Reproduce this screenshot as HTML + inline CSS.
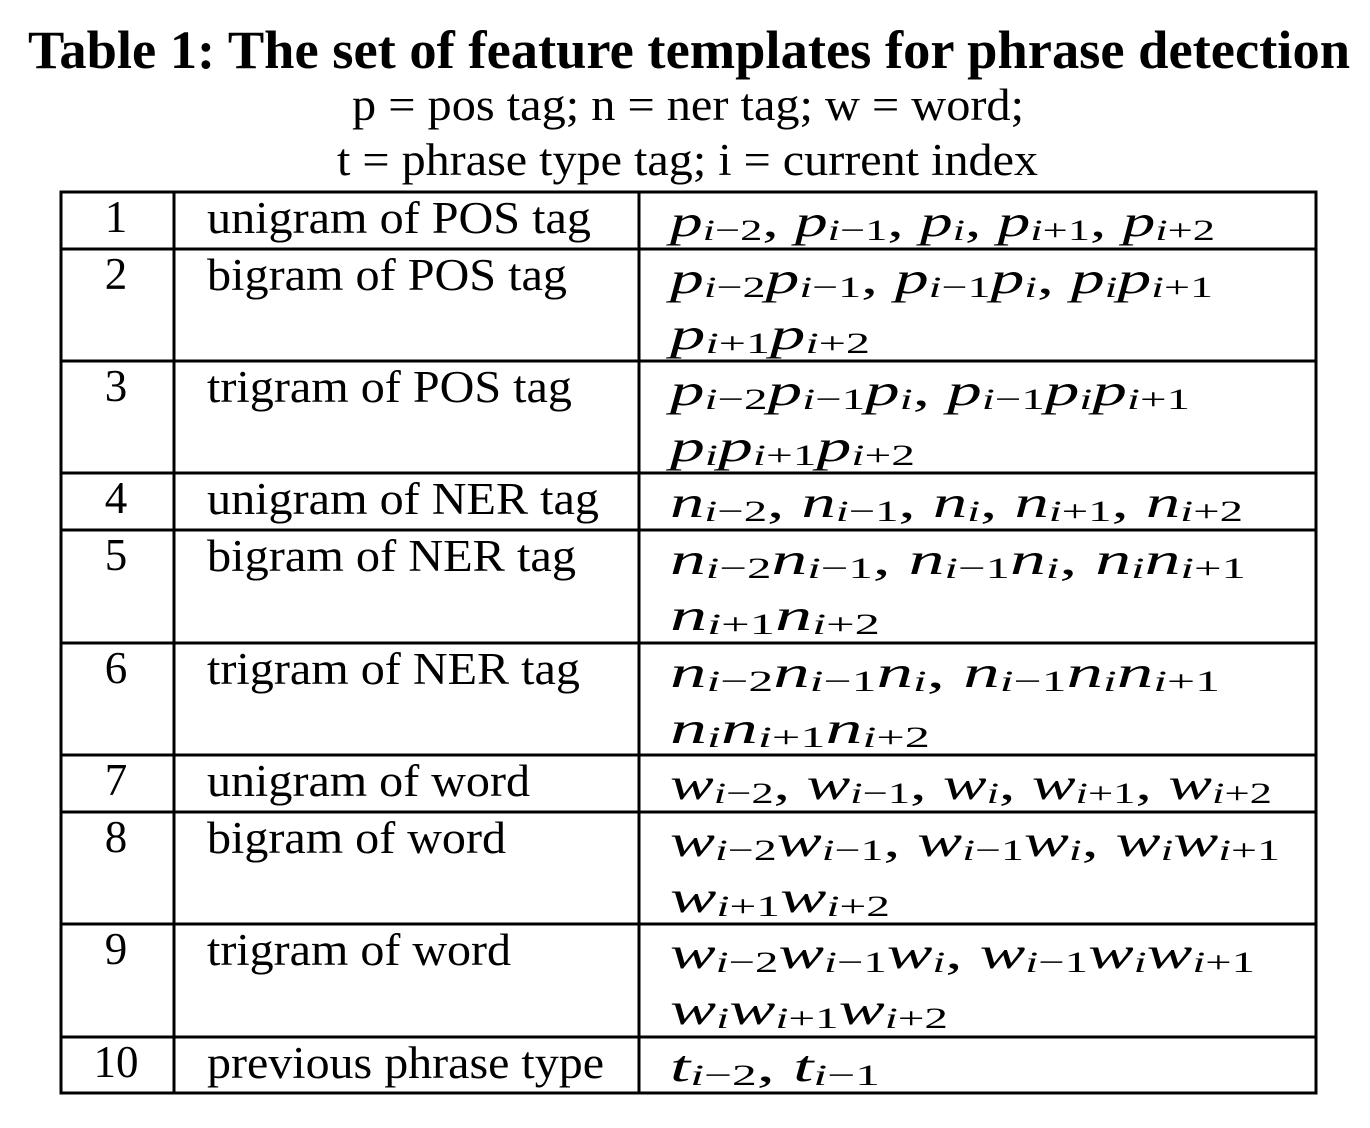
<!DOCTYPE html>
<html><head><meta charset="utf-8"><style>
html,body{margin:0;padding:0;background:#fff;}
svg{display:block;}
text{font-family:"Liberation Serif",serif;fill:#000;}
</style></head><body>
<svg id="s" width="1370" height="1128" viewBox="0 0 1370 1128" xmlns="http://www.w3.org/2000/svg">
<text x="28" y="68" font-size="54" font-weight="bold" textLength="1322" lengthAdjust="spacingAndGlyphs">Table 1: The set of feature templates for phrase detection</text>
<text x="352" y="120" font-size="45" textLength="672" lengthAdjust="spacingAndGlyphs">p = pos tag; n = ner tag; w = word;</text>
<text x="337" y="175" font-size="45" textLength="701" lengthAdjust="spacingAndGlyphs">t = phrase type tag; i = current index</text>
</svg>
<script>
const svg=document.getElementById('s');
const NS='http://www.w3.org/2000/svg';
const rowTops=[192,249,361,473,530,643,755,812,924,1037];
const tableBottom=1093;
const colX=[61,174,639,1316];
const names=['unigram of POS tag','bigram of POS tag','trigram of POS tag','unigram of NER tag','bigram of NER tag','trigram of NER tag','unigram of word','bigram of word','trigram of word','previous phrase type'];
const nameEnds=[591,567,572,599,576,580,530,506,511,604];
const feats=[
 ['p_{i−2}, p_{i−1}, p_{i}, p_{i+1}, p_{i+2}'],
 ['p_{i−2}p_{i−1}, p_{i−1}p_{i}, p_{i}p_{i+1}','p_{i+1}p_{i+2}'],
 ['p_{i−2}p_{i−1}p_{i}, p_{i−1}p_{i}p_{i+1}','p_{i}p_{i+1}p_{i+2}'],
 ['n_{i−2}, n_{i−1}, n_{i}, n_{i+1}, n_{i+2}'],
 ['n_{i−2}n_{i−1}, n_{i−1}n_{i}, n_{i}n_{i+1}','n_{i+1}n_{i+2}'],
 ['n_{i−2}n_{i−1}n_{i}, n_{i−1}n_{i}n_{i+1}','n_{i}n_{i+1}n_{i+2}'],
 ['w_{i−2}, w_{i−1}, w_{i}, w_{i+1}, w_{i+2}'],
 ['w_{i−2}w_{i−1}, w_{i−1}w_{i}, w_{i}w_{i+1}','w_{i+1}w_{i+2}'],
 ['w_{i−2}w_{i−1}w_{i}, w_{i−1}w_{i}w_{i+1}','w_{i}w_{i+1}w_{i+2}'],
 ['t_{i−2}, t_{i−1}']
];
const featEnds=[[1215],[1213,870],[1190,915],[1243],[1246,880],[1220,930],[1272],[1280,890],[1255,948],[880]];

function line(x1,y1,x2,y2,name){
  const l=document.createElementNS(NS,'line');
  l.setAttribute('x1',x1);l.setAttribute('y1',y1);l.setAttribute('x2',x2);l.setAttribute('y2',y2);
  l.setAttribute('stroke','#000');l.setAttribute('stroke-width','3');
  
  
  svg.appendChild(l);
}
rowTops.concat([tableBottom]).forEach((y,i)=>line(59.5,y,1317.5,y,'row-rule-'+i));
colX.forEach((x,i)=>line(x,190.5,x,1094.5,'column-rule-'+i));

function txt(x,y,s,size,name,len,anchor){
  const t=document.createElementNS(NS,'text');
  t.setAttribute('x',x);t.setAttribute('y',y);t.setAttribute('font-size',size);
  if(len){t.setAttribute('textLength',len);t.setAttribute('lengthAdjust','spacingAndGlyphs');}
  if(anchor)t.setAttribute('text-anchor',anchor);
  t.textContent=s;
  
  
  svg.appendChild(t);return t;
}
function span(t,text,attrs){
  const s=document.createElementNS(NS,'tspan');
  for(const k in attrs)s.setAttribute(k,attrs[k]);
  s.textContent=text;t.appendChild(s);
}
function mathLine(x,y,s,len,name){
  const t=document.createElementNS(NS,'text');
  t.setAttribute('x',x);t.setAttribute('y',y);t.setAttribute('font-size',44);
  t.setAttribute('textLength',len);t.setAttribute('lengthAdjust','spacingAndGlyphs');
  
  
  const re=/([a-z])_\{([^}]*)\}|([^_]+?)(?=[a-z]_|$)/g;let m;
  while((m=re.exec(s))!==null){
    if(m[1]){
      span(t,m[1],{'font-style':'italic'});
      span(t,'i',{'font-size':'30','font-style':'italic','dy':'4'});
      const rest=m[2].slice(1);
      if(rest)span(t,rest,{'font-size':'30'});
      span(t,'\u200B',{'dy':'-4'});
    } else if(m[3]){
      span(t,m[3],{});
    }
    if(m[0]==='')re.lastIndex++;
  }
  svg.appendChild(t);
}
rowTops.forEach((top,i)=>{
  txt(116,top+40,String(i+1),45,'row-number-'+(i+1),null,'middle');
  txt(207,top+41,names[i],45,'template-name-'+(i+1),nameEnds[i]-207);
  feats[i].forEach((f,j)=>mathLine(670,top+44+j*56,f,featEnds[i][j]-670,'template-features-'+(i+1)+'-line-'+(j+1)));
});
</script>
</body></html>
